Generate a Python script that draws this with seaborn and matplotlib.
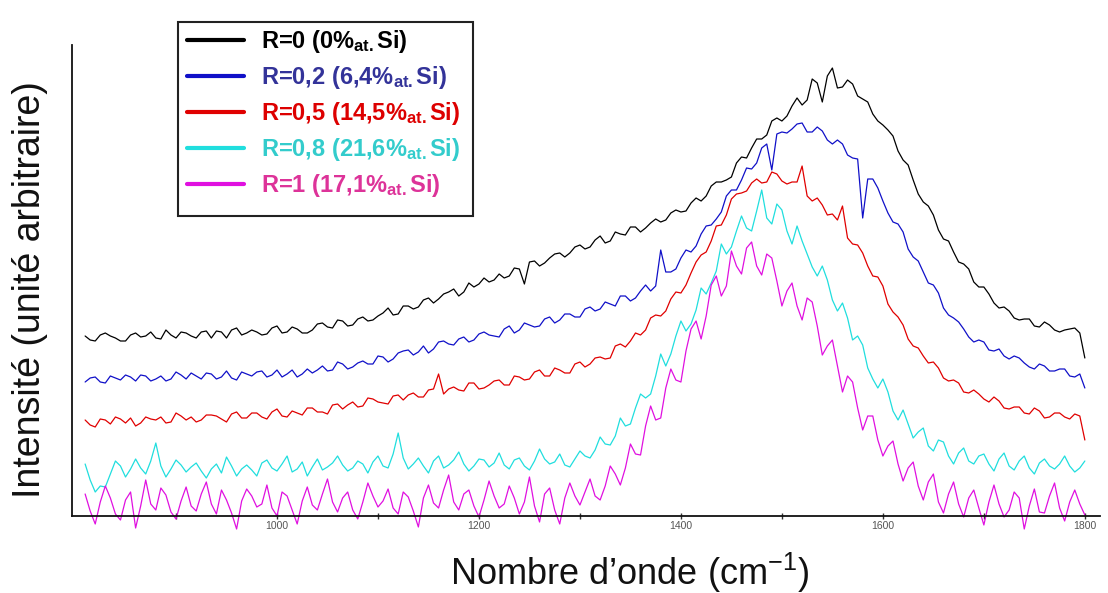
import numpy as np
import pandas as pd
import matplotlib
matplotlib.use("Agg")
import matplotlib.pyplot as plt
import matplotlib.patches as mpatches
import seaborn as sns

# wavenumber grid (cm-1): readings every 5 cm-1 from 810 to 1800
wavenumber = np.arange(810, 1801, 5)

labels = [
    r"R=0 (0%$_{\mathbf{at.}}$Si)",
    r"R=0,2 (6,4%$_{\mathbf{at.}}$Si)",
    r"R=0,5 (14,5%$_{\mathbf{at.}}$Si)",
    r"R=0,8 (21,6%$_{\mathbf{at.}}$Si)",
    r"R=1 (17,1%$_{\mathbf{at.}}$Si)",
]
line_colors = ["#000000", "#1010c8", "#e00000", "#20dede", "#e010e0"]
text_colors = ["#000000", "#333399", "#dd0000", "#33cccc", "#dd3399"]

# intensities (arbitrary units, offset spectra)
# *_a : readings at 810, 820, ... 1800   *_b : readings at 815, 825, ... 1795
r0_a = [180, 175, 183, 178, 175, 183, 180, 178, 186, 178, 183, 178, 185, 185, 178, 188, 183, 184, 182, 190,
        184, 187, 183, 192, 189, 196, 190, 197, 195, 200, 208, 202, 210, 209, 218, 217, 224, 220, 233, 232,
        234, 242, 240, 247, 254, 250, 258, 263, 263, 271, 269, 280, 275, 282, 289, 284, 293, 294, 303, 304,
        313, 315, 330, 334, 339, 359, 368, 377, 395, 395, 410, 411, 437, 414, 448, 429, 432, 417, 402, 391,
        380, 356, 336, 314, 301, 277, 264, 252, 234, 229, 213, 209, 198, 197, 190, 194, 186, 186, 188, 158]
r0_b = [176, 181, 180, 175, 181, 179, 184, 177, 181, 184, 180, 184, 178, 184, 186, 181, 186, 181, 188, 183,
        189, 183, 186, 193, 188, 195, 191, 199, 196, 203, 201, 210, 207, 216, 213, 222, 227, 224, 229, 238,
        236, 238, 248, 232, 255, 253, 262, 259, 269, 267, 276, 273, 284, 281, 289, 288, 297, 296, 306, 305,
        318, 320, 334, 336, 353, 358, 377, 381, 398, 400, 418, 416, 433, 440, 428, 436, 420, 414, 395, 386,
        365, 351, 322, 310, 286, 275, 254, 247, 229, 222, 208, 205, 196, 197, 189, 191, 184, 187, 183]
r02_a = [134, 139, 133, 138, 141, 135, 140, 137, 135, 144, 137, 140, 143, 137, 145, 136, 142, 144, 139, 146,
         142, 139, 147, 146, 145, 154, 147, 153, 152, 160, 154, 163, 166, 164, 163, 174, 172, 177, 174, 182,
         181, 179, 190, 186, 191, 190, 199, 196, 202, 199, 209, 207, 212, 220, 215, 225, 225, 266, 244, 258,
         264, 282, 291, 304, 326, 336, 347, 368, 346, 384, 387, 393, 384, 385, 372, 372, 358, 298, 337, 315,
         294, 284, 259, 244, 231, 208, 198, 187, 174, 174, 165, 160, 160, 153, 147, 150, 145, 147, 139, 128]
r02_b = [138, 134, 140, 136, 139, 141, 135, 140, 137, 141, 143, 137, 142, 139, 138, 144, 140, 145, 141, 139,
         146, 142, 143, 150, 146, 152, 149, 155, 152, 159, 157, 165, 161, 170, 167, 175, 171, 179, 176, 184,
         180, 187, 183, 193, 189, 197, 193, 202, 199, 207, 205, 214, 210, 220, 218, 231, 230, 244, 247, 266,
         270, 290, 297, 320, 326, 348, 353, 372, 382, 383, 392, 384, 389, 376, 376, 361, 357, 337, 328, 303,
         292, 267, 255, 233, 223, 201, 194, 179, 176, 166, 167, 157, 158, 149, 152, 145, 147, 140, 142]
r05_a = [96, 89, 96, 99, 93, 90, 99, 96, 93, 103, 96, 94, 101, 100, 94, 104, 98, 103, 97, 107,
         99, 103, 108, 104, 102, 112, 111, 109, 118, 114, 112, 121, 121, 119, 126, 142, 127, 126, 133, 127,
         131, 136, 131, 139, 137, 146, 140, 146, 143, 154, 152, 159, 158, 172, 175, 181, 198, 200, 217, 223,
         243, 261, 275, 291, 317, 323, 333, 333, 344, 335, 334, 350, 315, 311, 302, 310, 272, 263, 240, 230,
         204, 191, 170, 160, 154, 138, 136, 124, 126, 117, 119, 108, 109, 103, 108, 98, 103, 99, 102, 76]
r05_b = [91, 97, 92, 97, 98, 93, 97, 99, 94, 100, 99, 96, 101, 97, 102, 98, 103, 99, 104, 100,
         105, 101, 108, 104, 111, 107, 114, 110, 117, 113, 120, 116, 123, 119, 127, 122, 129, 125, 133, 128,
         135, 131, 140, 136, 144, 140, 148, 143, 152, 149, 158, 157, 170, 169, 183, 186, 201, 205, 224, 231,
         254, 264, 290, 301, 322, 325, 337, 334, 342, 332, 334, 320, 318, 301, 296, 278, 271, 250, 239, 212,
         199, 177, 168, 153, 148, 135, 133, 123, 122, 114, 115, 107, 109, 102, 105, 99, 103, 97, 100]
r08_a = [52, 24, 29, 55, 39, 57, 42, 73, 39, 56, 44, 53, 38, 52, 59, 40, 51, 40, 56, 45,
         60, 47, 40, 57, 49, 60, 45, 55, 43, 60, 48, 83, 47, 58, 43, 60, 51, 64, 45, 57,
         49, 63, 47, 58, 46, 67, 52, 62, 49, 65, 58, 79, 71, 98, 92, 122, 122, 162, 162, 195,
         192, 228, 233, 272, 269, 300, 285, 326, 292, 306, 272, 275, 249, 250, 216, 213, 176, 171, 137, 137,
         105, 106, 78, 88, 65, 74, 52, 68, 52, 62, 45, 63, 46, 60, 42, 57, 47, 60, 44, 55]
r08_b = [36, 30, 42, 50, 47, 48, 55, 50, 47, 51, 49, 45, 47, 43, 50, 47, 46, 53, 48, 52,
         44, 54, 49, 46, 53, 51, 48, 52, 54, 50, 62, 58, 52, 50, 55, 48, 56, 52, 50, 56,
         53, 51, 56, 50, 55, 57, 54, 51, 57, 60, 66, 72, 80, 90, 108, 118, 140, 150, 180, 185,
         206, 222, 245, 262, 285, 288, 305, 298, 312, 285, 290, 262, 240, 236, 205, 198, 180, 148, 128, 124,
         96, 92, 84, 70, 76, 60, 63, 55, 60, 52, 57, 50, 55, 48, 53, 50, 52, 50, 48]
r1_a = [22, -8, 30, 2, 16, -12, 36, 6, 21, -3, 29, 5, 34, 2, 16, -13, 27, 9, 31, 0,
        20, -8, 29, 6, 37, 4, 24, -3, 33, 9, 27, 2, 19, -11, 31, 8, 41, 6, 26, -1,
        35, 8, 30, 2, 39, -6, 28, -8, 33, 11, 37, 16, 50, 31, 72, 61, 110, 98, 147, 134,
        187, 177, 231, 220, 265, 242, 274, 241, 258, 210, 233, 196, 214, 161, 176, 124, 134, 86, 100, 60,
        75, 35, 54, 16, 42, 3, 34, -1, 26, -9, 31, -1, 24, -13, 27, 3, 33, -5, 26, 1]
r1_b = [5, 14, 18, -4, 24, 10, 12, 28, 4, 15, 10, 22, 12, 26, 3, 15, 20, 12, 8, 24,
        6, 15, 11, 22, 14, 18, 6, 14, 20, 15, 8, 24, 5, 18, 13, 26, 14, 22, 10, 16,
        20, 12, 18, 14, 10, 22, 6, 18, 20, 24, 20, 30, 42, 48, 62, 90, 96, 128, 136, 165,
        195, 200, 240, 230, 250, 268, 250, 262, 235, 225, 210, 218, 190, 170, 150, 140, 108, 100, 76, 70,
        52, 48, 30, 34, 14, 22, 12, 18, 8, 14, 12, 6, 18, 10, 4, 20, 8, 14, 12]

series = [(r0_a, r0_b), (r02_a, r02_b), (r05_a, r05_b), (r08_a, r08_b), (r1_a, r1_b)]
frames = []
for lab, (a, b) in zip(labels, series):
    vals = np.empty(len(wavenumber))
    vals[0::2] = a
    vals[1::2] = b
    frames.append(pd.DataFrame({"wn": wavenumber, "intensity": vals, "ech": lab}))
df = pd.concat(frames, ignore_index=True)

sns.set_style("white")
plt.rcParams['font.family'] = ['Liberation Sans', 'DejaVu Sans']
plt.rcParams['mathtext.fontset'] = 'custom'
plt.rcParams['mathtext.rm'] = 'Liberation Sans'
plt.rcParams['mathtext.it'] = 'Liberation Sans:italic'
plt.rcParams['mathtext.bf'] = 'Liberation Sans:bold'

fig = plt.figure(figsize=(11.08, 5.93), dpi=100)
ax = fig.add_axes([72 / 1108, 1 - 556 / 593, 1028 / 1108, 511 / 593])

sns.lineplot(data=df, x="wn", y="intensity", hue="ech", palette=line_colors,
             estimator=None, sort=False, linewidth=0.9, ax=ax)

ax.set_xlim(797, 1815)
ax.set_ylim(-40, 471)

for s in ["top", "right"]:
    ax.spines[s].set_visible(False)
ax.spines["bottom"].set_position(("data", 0))
ax.spines["left"].set_bounds(0, 471)
for s in ["left", "bottom"]:
    ax.spines[s].set_color("#111111")
    ax.spines[s].set_linewidth(1.3)

ax.set_yticks([])
ax.set_xticks([1000, 1200, 1400, 1600, 1800])
ax.set_xticks([900, 1100, 1300, 1500, 1700], minor=True)
ax.tick_params(axis="x", which="both", direction="inout", length=5, width=1,
               color="#333333", labelsize=7.5, labelcolor="#555555", pad=1, bottom=True)
ax.set_xlabel("")
ax.set_ylabel("")

fig.text(30 / 1108, 1 - 290 / 593, "Intensité (unité arbitraire)", rotation=90,
         ha="center", va="center", fontsize=27, color="#111111")
fig.text(630 / 1108, 1 - 585 / 593, r"Nombre d’onde (cm$^{\mathregular{-1}}$)",
         ha="center", va="baseline", fontsize=26, color="#111111")

handles, labs = ax.get_legend_handles_labels()
leg = ax.legend(handles, labs, loc="upper left",
                bbox_to_anchor=(187 / 1108, 1 - 28 / 593), bbox_transform=fig.transFigure,
                frameon=False, borderaxespad=0, borderpad=0,
                handlelength=2.4, handletextpad=0.75, labelspacing=0.38,
                prop={"weight": "bold", "size": 17})
for line in leg.get_lines():
    line.set_linewidth(3)
for txt, c in zip(leg.get_texts(), text_colors):
    txt.set_color(c)

# legend frame
fig.patches.append(mpatches.Rectangle((178 / 1108, 1 - 216 / 593), 295 / 1108, 194 / 593,
                                      transform=fig.transFigure, fill=False,
                                      edgecolor="#222222", linewidth=1.5, zorder=5))

fig.savefig("out.png", dpi=100)
